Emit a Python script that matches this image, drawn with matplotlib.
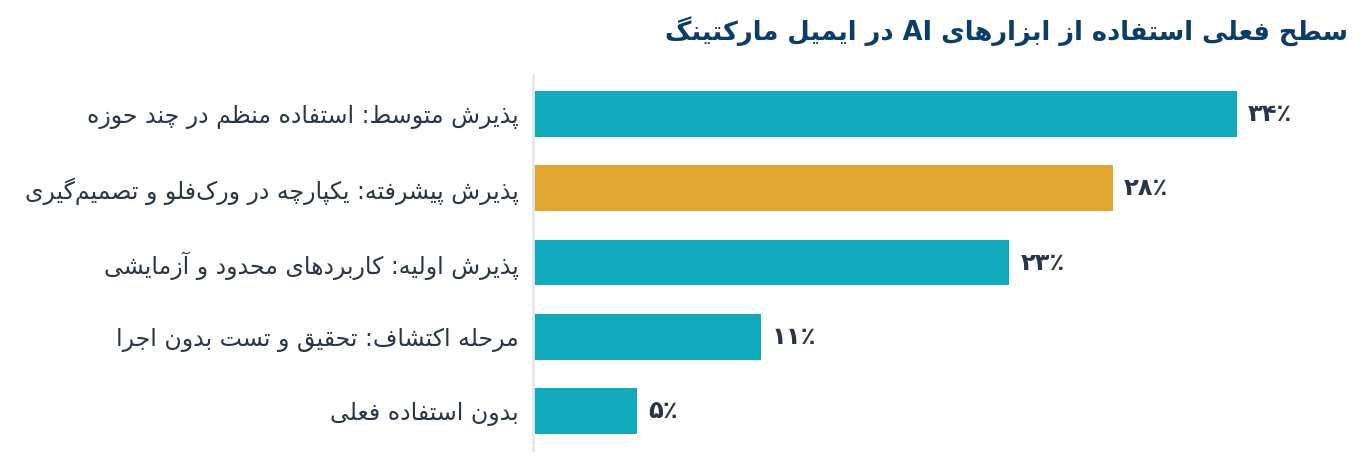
import re

import matplotlib
matplotlib.use("Agg")
import matplotlib.pyplot as plt

# ── data ──────────────────────────────────────────────────────────────────
categories = [
    "پذیرش متوسط: استفاده منظم در چند حوزه",
    "پذیرش پیشرفته: یکپارچه در ورک‌فلو و تصمیم‌گیری",
    "پذیرش اولیه: کاربردهای محدود و آزمایشی",
    "مرحله اکتشاف: تحقیق و تست بدون اجرا",
    "بدون استفاده فعلی",
]
values = [34, 28, 23, 11, 5]
value_labels = ["۳۴٪", "۲۸٪", "۲۳٪", "۱۱٪", "۵٪"]
highlight = [False, True, False, False, False]
title = "سطح فعلی استفاده از ابزارهای AI در ایمیل مارکتینگ"

TEAL = "#10AABC"
GOLD = "#E0A72E"
TEXT = "#2A3647"
NAVY = "#0B3D6B"

# ── minimal Arabic/Persian shaping (no reshaper lib in the sandbox) ──────
# letter -> (isolated, final, initial, medial); right-joining letters have 2
FORMS = {
    "آ": (0xFE81, 0xFE82), "أ": (0xFE83, 0xFE84), "ؤ": (0xFE85, 0xFE86),
    "إ": (0xFE87, 0xFE88), "ا": (0xFE8D, 0xFE8E), "ة": (0xFE93, 0xFE94),
    "د": (0xFEA9, 0xFEAA), "ذ": (0xFEAB, 0xFEAC), "ر": (0xFEAD, 0xFEAE),
    "ز": (0xFEAF, 0xFEB0), "ژ": (0xFB8A, 0xFB8B), "و": (0xFEED, 0xFEEE),
    "ئ": (0xFE89, 0xFE8A, 0xFE8B, 0xFE8C),
    "ب": (0xFE8F, 0xFE90, 0xFE91, 0xFE92),
    "پ": (0xFB56, 0xFB57, 0xFB58, 0xFB59),
    "ت": (0xFE95, 0xFE96, 0xFE97, 0xFE98),
    "ث": (0xFE99, 0xFE9A, 0xFE9B, 0xFE9C),
    "ج": (0xFE9D, 0xFE9E, 0xFE9F, 0xFEA0),
    "چ": (0xFB7A, 0xFB7B, 0xFB7C, 0xFB7D),
    "ح": (0xFEA1, 0xFEA2, 0xFEA3, 0xFEA4),
    "خ": (0xFEA5, 0xFEA6, 0xFEA7, 0xFEA8),
    "س": (0xFEB1, 0xFEB2, 0xFEB3, 0xFEB4),
    "ش": (0xFEB5, 0xFEB6, 0xFEB7, 0xFEB8),
    "ص": (0xFEB9, 0xFEBA, 0xFEBB, 0xFEBC),
    "ض": (0xFEBD, 0xFEBE, 0xFEBF, 0xFEC0),
    "ط": (0xFEC1, 0xFEC2, 0xFEC3, 0xFEC4),
    "ظ": (0xFEC5, 0xFEC6, 0xFEC7, 0xFEC8),
    "ع": (0xFEC9, 0xFECA, 0xFECB, 0xFECC),
    "غ": (0xFECD, 0xFECE, 0xFECF, 0xFED0),
    "ف": (0xFED1, 0xFED2, 0xFED3, 0xFED4),
    "ق": (0xFED5, 0xFED6, 0xFED7, 0xFED8),
    "ک": (0xFB8E, 0xFB8F, 0xFB90, 0xFB91),
    "ك": (0xFED9, 0xFEDA, 0xFEDB, 0xFEDC),
    "گ": (0xFB92, 0xFB93, 0xFB94, 0xFB95),
    "ل": (0xFEDD, 0xFEDE, 0xFEDF, 0xFEE0),
    "م": (0xFEE1, 0xFEE2, 0xFEE3, 0xFEE4),
    "ن": (0xFEE5, 0xFEE6, 0xFEE7, 0xFEE8),
    "ه": (0xFEE9, 0xFEEA, 0xFEEB, 0xFEEC),
    "ی": (0xFBFC, 0xFBFD, 0xFBFE, 0xFBFF),
    "ي": (0xFEF1, 0xFEF2, 0xFEF3, 0xFEF4),
}


def shape(s):
    out = []
    for i, ch in enumerate(s):
        if ch not in FORMS:
            if ch != "\u200c":
                out.append(ch)
            continue
        prev = s[i - 1] if i > 0 else ""
        nxt = s[i + 1] if i + 1 < len(s) else ""
        f = FORMS[ch]
        join_prev = prev in FORMS and len(FORMS[prev]) == 4
        join_next = len(f) == 4 and nxt in FORMS
        if join_prev and join_next:
            k = 3
        elif join_prev:
            k = 1
        elif join_next:
            k = 2
        else:
            k = 0
        out.append(chr(f[k]))
    vis = "".join(out)[::-1]
    # put latin runs back in reading order
    return re.sub(r"[A-Za-z0-9]+", lambda m: m.group(0)[::-1], vis)


# ── plot ─────────────────────────────────────────────────────────────────
plt.rcParams["font.family"] = ["DejaVu Sans"]

fig = plt.figure(figsize=(13.65, 4.65), dpi=100)
ax = fig.add_axes([533 / 1365, 15 / 465, 828 / 1365, 375 / 465])

ypos = list(range(len(values)))
colors = [GOLD if h else TEAL for h in highlight]
bars = ax.barh(ypos, values, height=0.62, color=colors)

ax.set_xlim(0, 40)
ax.set_ylim(len(values) - 0.47, -0.53)
ax.set_yticks(ypos)
ax.set_yticklabels([shape(c) for c in categories], fontsize=17, color=TEXT)
ax.tick_params(axis="y", length=0, pad=10)
ax.set_xticks([])

for side in ("top", "right", "bottom"):
    ax.spines[side].set_visible(False)
ax.spines["left"].set_color("#E4E8EE")
ax.spines["left"].set_linewidth(2)

for bar, lab in zip(bars, value_labels):
    ax.text(bar.get_width() + 0.55, bar.get_y() + bar.get_height() / 2, lab,
            ha="left", va="center", fontsize=17.5, fontweight="bold", color=TEXT)

fig.text(1348 / 1365, 1 - 32 / 465, shape(title), ha="right", va="center",
         fontsize=18.5, fontweight="bold", color=NAVY)

fig.savefig("out.png", dpi=100, facecolor="white")
